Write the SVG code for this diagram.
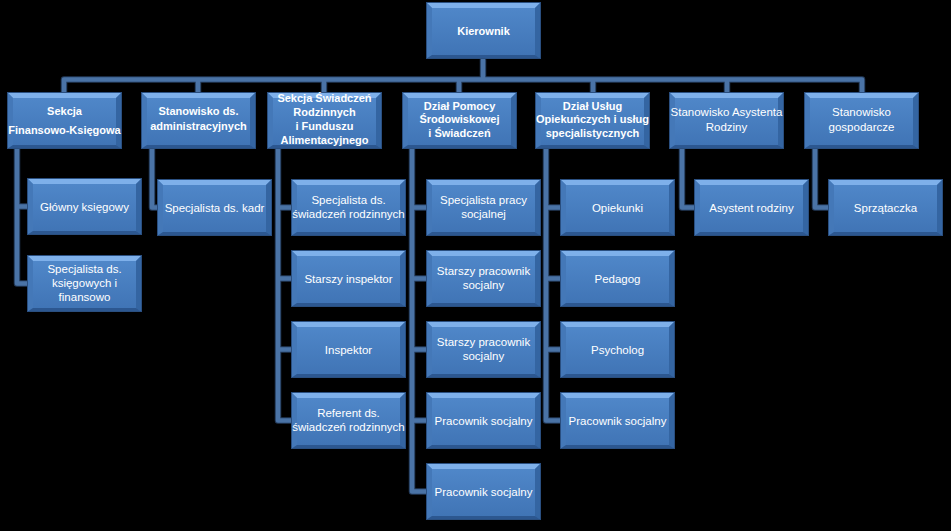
<svg xmlns="http://www.w3.org/2000/svg" xmlns:xlink="http://www.w3.org/1999/xlink" width="951" height="531" viewBox="0 0 951 531">
<style>
text{font-family:"Liberation Sans",Arial,sans-serif;fill:#ffffff;text-anchor:middle;font-size:11.5px}
.b{font-weight:bold;font-size:11px}
.c1{fill:none;stroke:#233a58;stroke-width:6.5;stroke-linejoin:round;stroke-linecap:round}
.c2{fill:none;stroke:#4a73a6;stroke-width:4.5;stroke-linejoin:round;stroke-linecap:round}
</style>
<defs>
<linearGradient id="g" x1="0" y1="0" x2="0" y2="1">
<stop offset="0" stop-color="#5189cb"/>
<stop offset="1" stop-color="#3f73b4"/>
</linearGradient>
<g id="bx">
<rect x="0" y="0" width="115" height="57" fill="url(#g)"/>
<polygon points="0,0 115,0 109,6 6,6" fill="#7eb0ea"/>
<polygon points="0,0 6,6 6,53 0,57" fill="#4478b8"/>
<polygon points="115,0 109,6 109,53 115,57" fill="#3465a2"/>
<polygon points="0,57 6,53 109,53 115,57" fill="#2c5790"/>
<rect x="0.5" y="0.5" width="114" height="56" fill="none" stroke="#2a4f80" stroke-width="1"/>
</g>
</defs>
<rect width="951" height="531" fill="#000"/>
<g id="connectors">
<path id="conn-base" class="c1" d="M483,60 V79.5 M64,92 V79.5 H862 V92 M198,79.5 V92 M324,79.5 V92 M459,79.5 V92 M593,79.5 V92 M727,79.5 V92 M17,149 V283.5 H27 M17,206.5 H27 M152,149 V207.5 H157 M278,149 V420.5 H291 M278,207.5 H291 M278,278.5 H291 M278,349.5 H291 M412,149 V491.5 H426 M412,207.5 H426 M412,278.5 H426 M412,349.5 H426 M412,420.5 H426 M546,149 V420.5 H560 M546,207.5 H560 M546,278.5 H560 M546,349.5 H560 M682,149 V207.5 H694 M815,149 V207.5 H828"/>
<path id="conn-top" class="c2" d="M483,60 V79.5 M64,92 V79.5 H862 V92 M198,79.5 V92 M324,79.5 V92 M459,79.5 V92 M593,79.5 V92 M727,79.5 V92 M17,149 V283.5 H27 M17,206.5 H27 M152,149 V207.5 H157 M278,149 V420.5 H291 M278,207.5 H291 M278,278.5 H291 M278,349.5 H291 M412,149 V491.5 H426 M412,207.5 H426 M412,278.5 H426 M412,349.5 H426 M412,420.5 H426 M546,149 V420.5 H560 M546,207.5 H560 M546,278.5 H560 M546,349.5 H560 M682,149 V207.5 H694 M815,149 V207.5 H828"/>
</g>
<g id="kierownik"><use xlink:href="#bx" x="426" y="2"/><text class="b" x="483.5" y="35" font-size="12px">Kierownik</text></g>
<g id="sekcja-fk"><use xlink:href="#bx" x="7" y="92"/><text class="b" x="64.5" y="115">Sekcja</text><text class="b" x="64.5" y="134">Finansowo-Księgowa</text></g>
<g id="stan-adm"><use xlink:href="#bx" x="141" y="92"/><text class="b" x="198.5" y="115">Stanowisko ds.</text><text class="b" x="198.5" y="130">administracyjnych</text></g>
<g id="sekcja-sr"><use xlink:href="#bx" x="267" y="92"/><text class="b" x="324.5" y="102">Sekcja Świadczeń</text><text class="b" x="324.5" y="116">Rodzinnych</text><text class="b" x="324.5" y="130">i Funduszu</text><text class="b" x="324.5" y="144">Alimentacyjnego</text></g>
<g id="dzial-pomocy"><use xlink:href="#bx" x="402" y="92"/><text class="b" x="459.5" y="110">Dział Pomocy</text><text class="b" x="459.5" y="123">Środowiskowej</text><text class="b" x="459.5" y="137">i Świadczeń</text></g>
<g id="dzial-uslug"><use xlink:href="#bx" x="535" y="92"/><text class="b" x="592.5" y="110">Dział Usług</text><text class="b" x="592.5" y="123">Opiekuńczych i usług</text><text class="b" x="592.5" y="137">specjalistycznych</text></g>
<g id="stan-asyst"><use xlink:href="#bx" x="669" y="92"/><text x="726.5" y="116">Stanowisko Asystenta</text><text x="726.5" y="131">Rodziny</text></g>
<g id="stan-gosp"><use xlink:href="#bx" x="804" y="92"/><text x="861.5" y="116">Stanowisko</text><text x="861.5" y="131">gospodarcze</text></g>
<g id="glowny-ksiegowy"><use xlink:href="#bx" x="27" y="178"/><text x="84.5" y="211">Główny księgowy</text></g>
<g id="spec-ksieg"><use xlink:href="#bx" x="27" y="255"/><text x="84.5" y="273">Specjalista ds.</text><text x="84.5" y="287">księgowych i</text><text x="84.5" y="301">finansowo</text></g>
<g id="spec-kadr"><use xlink:href="#bx" x="157" y="179"/><text x="214.5" y="212">Specjalista ds. kadr</text></g>
<g id="spec-swiad"><use xlink:href="#bx" x="291" y="179"/><text x="348.5" y="204">Specjalista ds.</text><text x="348.5" y="218">świadczeń rodzinnych</text></g>
<g id="starszy-insp"><use xlink:href="#bx" x="291" y="250"/><text x="348.5" y="283">Starszy inspektor</text></g>
<g id="inspektor"><use xlink:href="#bx" x="291" y="321"/><text x="348.5" y="354">Inspektor</text></g>
<g id="referent"><use xlink:href="#bx" x="291" y="392"/><text x="348.5" y="417">Referent ds.</text><text x="348.5" y="431">świadczeń rodzinnych</text></g>
<g id="spec-pracy"><use xlink:href="#bx" x="426" y="179"/><text x="483.5" y="204">Specjalista pracy</text><text x="483.5" y="218">socjalnej</text></g>
<g id="starszy-prac1"><use xlink:href="#bx" x="426" y="250"/><text x="483.5" y="275">Starszy pracownik</text><text x="483.5" y="289">socjalny</text></g>
<g id="starszy-prac2"><use xlink:href="#bx" x="426" y="321"/><text x="483.5" y="346">Starszy pracownik</text><text x="483.5" y="360">socjalny</text></g>
<g id="prac-soc1"><use xlink:href="#bx" x="426" y="392"/><text x="483.5" y="425">Pracownik socjalny</text></g>
<g id="prac-soc2"><use xlink:href="#bx" x="426" y="463"/><text x="483.5" y="496">Pracownik socjalny</text></g>
<g id="opiekunki"><use xlink:href="#bx" x="560" y="179"/><text x="617.5" y="212">Opiekunki</text></g>
<g id="pedagog"><use xlink:href="#bx" x="560" y="250"/><text x="617.5" y="283">Pedagog</text></g>
<g id="psycholog"><use xlink:href="#bx" x="560" y="321"/><text x="617.5" y="354">Psycholog</text></g>
<g id="prac-soc3"><use xlink:href="#bx" x="560" y="392"/><text x="617.5" y="425">Pracownik socjalny</text></g>
<g id="asystent"><use xlink:href="#bx" x="694" y="179"/><text x="751.5" y="212">Asystent rodziny</text></g>
<g id="sprzataczka"><use xlink:href="#bx" x="828" y="179"/><text x="885.5" y="212">Sprzątaczka</text></g>
</svg>
